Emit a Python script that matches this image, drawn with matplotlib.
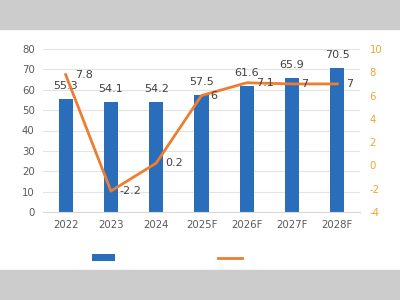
import matplotlib
matplotlib.use("Agg")
import matplotlib.pyplot as plt
from matplotlib.patches import Rectangle, Patch
from matplotlib.lines import Line2D

plt.rcParams["axes.unicode_minus"] = False

categories = ["2022", "2023", "2024", "2025F", "2026F", "2027F", "2028F"]
bar_values = [55.3, 54.1, 54.2, 57.5, 61.6, 65.9, 70.5]
line_values = [7.8, -2.2, 0.2, 6, 7.1, 7, 7]
bar_labels = ["55.3", "54.1", "54.2", "57.5", "61.6", "65.9", "70.5"]
line_labels = ["7.8", "-2.2", "0.2", "6", "7.1", "7", "7"]
left_ticks = [0, 10, 20, 30, 40, 50, 60, 70, 80]
right_ticks = [-4, -2, 0, 2, 4, 6, 8, 10]

BLUE = "#2A6EBB"
ORANGE = "#ED7D31"
GOLD = "#EBA630"
TXT = "#595959"

fig = plt.figure(figsize=(4, 3), dpi=100)
fig.patch.set_facecolor("white")
fig.patches.append(Rectangle((0, 0.903), 1, 0.1, transform=fig.transFigure, color="#CCCCCC", zorder=0))
fig.patches.append(Rectangle((0, 0), 1, 0.1, transform=fig.transFigure, color="#CCCCCC", zorder=0))

ax = fig.add_axes([0.1075, 0.2933, 0.7925, 0.5434])
ax.set_facecolor("none")
x = list(range(len(categories)))
ax.bar(x, bar_values, width=0.31, color=BLUE, zorder=2)
ax.set_xlim(-0.5, len(categories) - 0.5)
ax.set_ylim(0, 80)
ax.set_yticks(left_ticks)
ax.set_xticks(x)
ax.set_xticklabels(categories)
ax.grid(axis="y", color="#E3E3E3", linewidth=0.8, zorder=0)
for s in ["top", "right", "left"]:
    ax.spines[s].set_visible(False)
ax.spines["bottom"].set_color("#D9D9D9")
ax.tick_params(axis="both", length=0, colors=TXT, labelsize=7.3)
ax.tick_params(axis="x", pad=6)
ax.tick_params(axis="y", pad=6)
for xi, v, lab in zip(x, bar_values, bar_labels):
    ax.annotate(lab, (xi, v), xytext=(0, 13), textcoords="offset pixels",
                ha="center", va="center", fontsize=8, color="#404040", zorder=3)

ax2 = ax.twinx()
ax2.plot(x, line_values, color=ORANGE, linewidth=2.0, zorder=3)
ax2.set_ylim(-4, 10)
ax2.set_yticks(right_ticks)
for s in ["top", "right", "left", "bottom"]:
    ax2.spines[s].set_visible(False)
ax2.tick_params(axis="y", length=0, colors=GOLD, labelsize=7.3, pad=7)
for xi, v, lab in zip(x, line_values, line_labels):
    ax2.annotate(lab, (xi, v), xytext=(9, 0), textcoords="offset pixels",
                 ha="left", va="center", fontsize=8, color="#404040", zorder=4)

handles = [Patch(facecolor=BLUE, edgecolor="none"), Line2D([0], [0], color=ORANGE, linewidth=2.0)]
fig.legend(handles, ["", ""], loc="center left", bbox_to_anchor=(0.1975, 0.138), ncol=2,
           frameon=False, handlelength=1.7, handleheight=0.4, columnspacing=7.4, handletextpad=0)

fig.savefig("out.png", dpi=100)
